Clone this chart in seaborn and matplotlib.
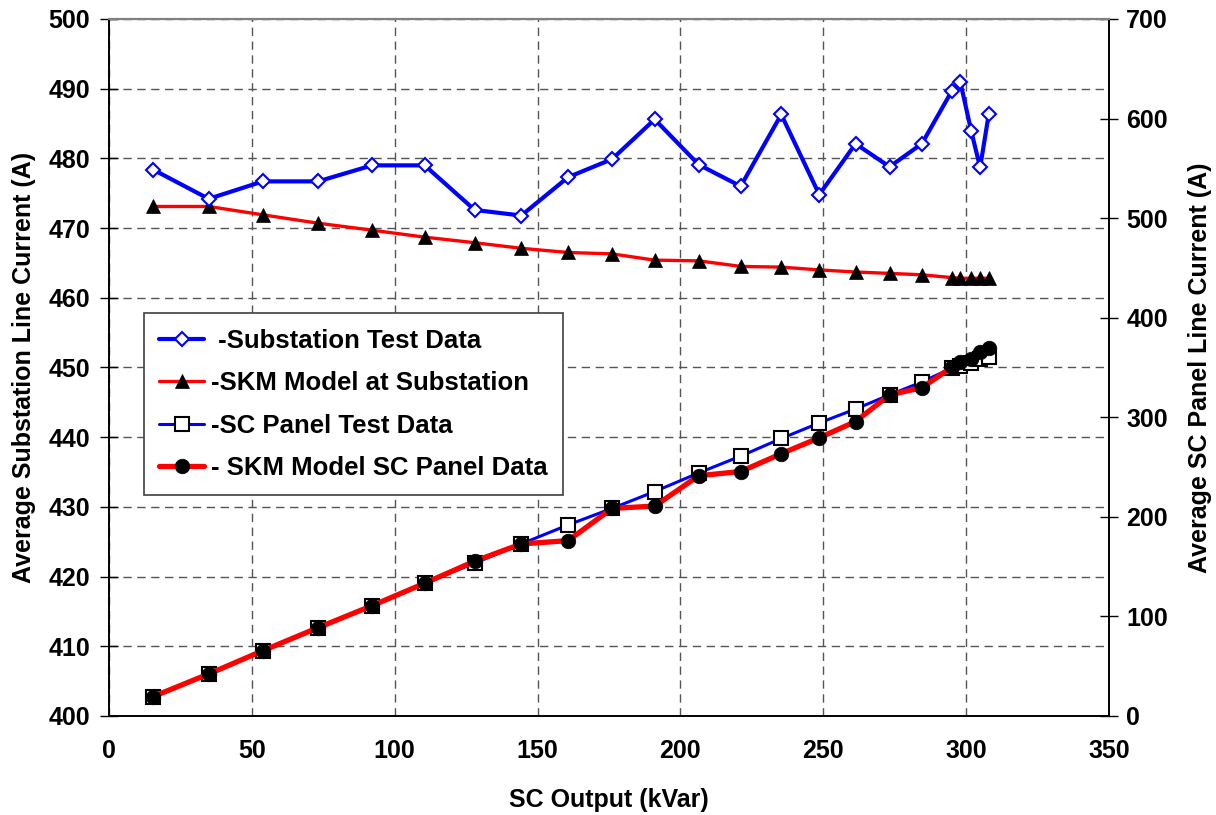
import numpy as np
import pandas as pd
import matplotlib
matplotlib.use("Agg")
import matplotlib.pyplot as plt
import seaborn as sns

# ---- data ----
sc_output_kvar = [15.4, 34.9, 53.9, 73.2, 92.1, 110.5, 128.0, 144.3, 160.7, 176.1,
                  191.0, 206.4, 221.1, 235.3, 248.6, 261.3, 273.2, 284.5, 294.9,
                  298.0, 301.8, 304.9, 307.9]
substation_test = [478.4, 474.2, 476.7, 476.7, 479.0, 479.0, 472.6, 471.8, 477.3, 479.9,
                   485.6, 479.1, 476.0, 486.3, 474.8, 482.1, 478.8, 482.1, 489.6,
                   490.9, 483.9, 478.7, 486.3]
skm_substation = [473.1, 473.1, 471.9, 470.7, 469.7, 468.7, 467.9, 467.1, 466.5, 466.3,
                  465.4, 465.3, 464.5, 464.4, 464.0, 463.7, 463.5, 463.3, 462.9,
                  462.8, 462.8, 462.8, 462.8]
sc_panel_test = [19.4, 42.2, 65.6, 88.7, 110.8, 133.3, 153.5, 172.8, 191.9, 208.5,
                 225.4, 244.1, 261.0, 278.7, 294.3, 308.3, 322.5, 335.4, 349.3,
                 351.0, 354.4, 358.4, 361.0]
skm_sc_panel = [19.4, 42.2, 65.6, 88.7, 110.8, 133.3, 155.5, 172.8, 176.1, 208.5,
                210.8, 241.3, 245.5, 263.4, 279.4, 295.7, 322.5, 329.7, 350.0,
                356.0, 358.4, 366.0, 369.4]

labels = [" -Substation Test Data", "-SKM Model at Substation",
          "-SC Panel Test Data", "- SKM Model SC Panel Data"]
x_ticks = [0, 50, 100, 150, 200, 250, 300, 350]
left_ticks = [400, 410, 420, 430, 440, 450, 460, 470, 480, 490, 500]
right_ticks = [0, 100, 200, 300, 400, 500, 600, 700]

df = pd.DataFrame({
    "kvar": sc_output_kvar,
    "sub_test": substation_test,
    "sub_skm": skm_substation,
    "panel_test": sc_panel_test,
    "panel_skm": skm_sc_panel,
})

sns.set_theme(style="white")
plt.rcParams['font.family'] = ['Liberation Sans', 'DejaVu Sans']
plt.rcParams['font.weight'] = 'bold'
plt.rcParams['axes.labelweight'] = 'bold'
plt.rcParams['text.color'] = 'black'
plt.rcParams['axes.labelcolor'] = 'black'
plt.rcParams['xtick.color'] = 'black'
plt.rcParams['ytick.color'] = 'black'

FS = 18
LFS = 18.5

fig = plt.figure(figsize=(12.16, 8.15), dpi=100)
ax = fig.add_axes([0.0896, 0.1215, 0.8224, 0.8552])
ax2 = ax.twinx()

BLUE = "#0000FF"
RED = "#FF0000"

sns.lineplot(data=df, x="kvar", y="sub_skm", ax=ax, color=RED, linewidth=2.4,
             marker="^", markersize=10, markerfacecolor="black",
             markeredgecolor="black", markeredgewidth=0.5, label=labels[1],
             estimator=None, sort=False, legend=False, zorder=3)
sns.lineplot(data=df, x="kvar", y="sub_test", ax=ax, color=BLUE, linewidth=3.0,
             marker="D", markersize=7.5, markerfacecolor="white",
             markeredgecolor=BLUE, markeredgewidth=1.5, label=labels[0],
             estimator=None, sort=False, legend=False, zorder=4)

sns.lineplot(data=df, x="kvar", y="panel_test", ax=ax2, color=BLUE, linewidth=2.2,
             marker="s", markersize=9.5, markerfacecolor="white",
             markeredgecolor="black", markeredgewidth=1.5, label=labels[2],
             estimator=None, sort=False, legend=False, zorder=3)
sns.lineplot(data=df, x="kvar", y="panel_skm", ax=ax2, color=RED, linewidth=3.8,
             marker="o", markersize=10.5, markerfacecolor="black",
             markeredgecolor="black", markeredgewidth=0.5, label=labels[3],
             estimator=None, sort=False, legend=False, zorder=4)

ax.set_xlim(0, 350)
ax.set_ylim(400, 500)
ax2.set_ylim(0, 700)
ax.set_xticks(x_ticks)
ax.set_yticks(left_ticks)
ax2.set_yticks(right_ticks)

ax.grid(True, which="major", color="#555555", linestyle=(0, (6, 4)), linewidth=1.0)
ax2.grid(False)

ax.set_xlabel("SC Output (kVar)", fontsize=FS, fontweight="bold", labelpad=18, color="black")
ax.set_ylabel("Average Substation Line Current (A)", fontsize=FS, fontweight="bold",
              labelpad=9, color="black")
ax2.set_ylabel("Average SC Panel Line Current (A)", fontsize=FS, fontweight="bold",
               labelpad=14, color="black")

for a in (ax, ax2):
    a.tick_params(axis="both", direction="inout", length=13, width=1.0,
                  colors="black", labelsize=FS)
    for s in ("left", "right", "bottom"):
        a.spines[s].set_color("black")
        a.spines[s].set_linewidth(1.2)
    a.spines["top"].set_color("#808080")
    a.spines["top"].set_linewidth(1.5)
ax.tick_params(axis="y", pad=7)
ax.tick_params(axis="x", pad=10)
ax2.tick_params(axis="y", pad=6)
for t in ax.get_xticklabels() + ax.get_yticklabels() + ax2.get_yticklabels():
    t.set_fontweight("bold")
    t.set_color("black")

h1, l1 = ax.get_legend_handles_labels()
h2, l2 = ax2.get_legend_handles_labels()
handles = {l: h for h, l in zip(h1 + h2, l1 + l2)}
leg = ax2.legend([handles[l] for l in labels], labels,
                 loc="upper left", bbox_to_anchor=(0.035, 0.578),
                 prop={"size": LFS, "weight": "bold"},
                 frameon=True, fancybox=False, framealpha=1.0,
                 edgecolor="#404040", handlelength=1.75, handletextpad=0.25,
                 borderpad=0.6, labelspacing=0.72, borderaxespad=0)
leg.get_frame().set_linewidth(1.2)
for t in leg.get_texts():
    t.set_color("black")

fig.savefig("out.png", dpi=100)
